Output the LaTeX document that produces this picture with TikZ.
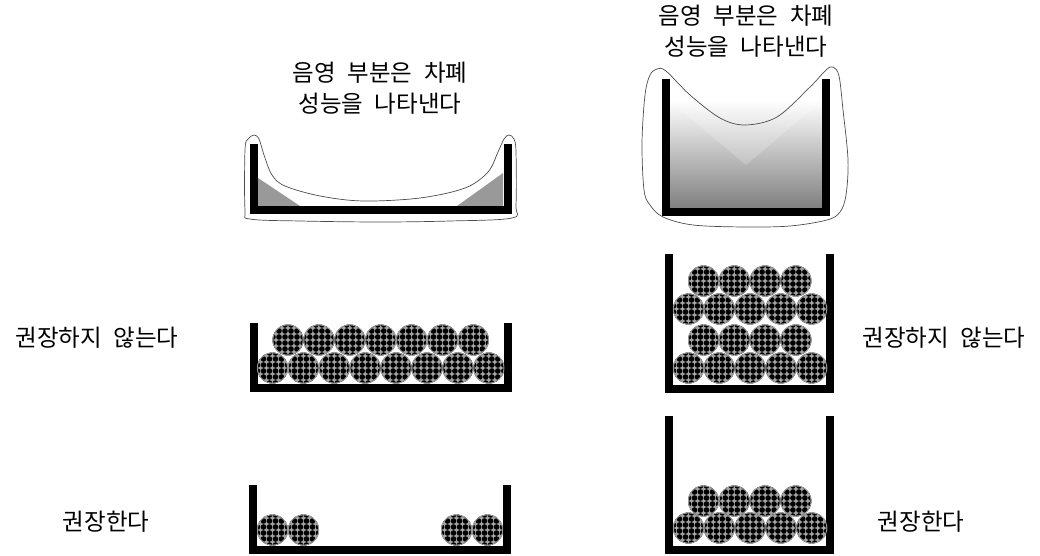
\documentclass[tikz,border=0pt]{standalone}
\usepackage{fontspec}
\newfontfamily\kr[WordSpace=2.2]{Noto Sans CJK KR}
\usetikzlibrary{positioning}

\tikzset{
  krtext/.style={font=\kr\fontsize{23.5}{31}\selectfont, align=center, inner sep=0pt},
  wall/.style={line width=8pt, line join=miter},
  outline/.style={draw=black!70, line width=0.7pt},
  wedge/.style={fill=black!40},
}

% U-shaped container: left x, right x, top y, bottom y (centre line)
\newcommand{\tray}[4]{\draw[wall] (#1,#3) -- (#1,#4) -- (#2,#4) -- (#2,#3);}

% one dotted pellet at (x,y)
\newcommand{\pellet}[2]{%
  \begin{scope}
    \clip (#1,#2) circle (15.5pt);
    \fill[black!35] (#1,#2) circle (15.5pt);
    \foreach \dx in {-15,-9,-3,3,9,15}{
      \foreach \dy in {-15,-9,-3,3,9,15}{
        \fill ({#1+\dx},{#2+\dy}) circle (2.8pt);}}
  \end{scope}
  \draw[black!40, line width=0.9pt] (#1,#2) circle (15.1pt);}

\begin{document}
\begin{tikzpicture}[x=1pt, y=-1pt]
  \useasboundingbox (0,0) rectangle (1040,556);

  % captions
  \node[krtext] (shadeL) at (380,88) {음영 부분은 차폐\\성능을 나타낸다};
  \node[krtext] (shadeR) at (746,31) {음영 부분은 차폐\\성능을 나타낸다};
  \node[krtext] (badL) at (97,338) {권장하지 않는다};
  \node[krtext] (goodL) at (106,522) {권장한다};
  \node[krtext] (badR) at (944,338) {권장하지 않는다};
  \node[krtext] (goodR) at (921,522) {권장한다};

  % shallow tray, shaded corners
  \fill[wedge] (258,206) -- (258,178) -- (300,206) -- cycle;
  \fill[wedge] (457,206) -- (503,173) -- (503,206) -- cycle;
  \tray{254}{508}{144}{209.5}
  \draw[outline] plot[smooth cycle, tension=0.55] coordinates {
    (245,150) (248,139) (254,135) (259,139) (264,155) (272,175) (285,186)
    (320,196) (363,201) (420,198) (465,188) (488,172) (498,152) (504,139)
    (509,135) (514,139) (516,152) (516,205) (512,218) (450,221) (380,222)
    (300,221) (250,219) (245,210)};

  % deep tray, graded fill
  \shade[top color=white, bottom color=black!50] (669,100) rectangle (823,208);
  \fill[white, opacity=0.2] (669,100) -- (823,100) -- (746,165) -- cycle;
  \tray{666}{826}{79}{212}
  \draw[outline] plot[smooth cycle, tension=0.55] coordinates {
    (642,143) (645,95) (650,75) (657,69) (666,71) (690,95) (720,118)
    (745,125) (777,117) (810,87) (826,70) (833,67) (839,76) (843,110)
    (848,160) (846,195) (840,212) (827,220) (790,226) (745,227) (693,225)
    (663,217) (650,205) (644,190)};

  % shallow tray, two full layers
  \tray{254}{508}{323}{388}
  \foreach \i in {0,...,7}{\pellet{272.5+30.9*\i}{368}}
  \foreach \i in {0,...,6}{\pellet{288+30.9*\i}{340}}

  % deep tray, four layers
  \tray{669}{830}{254}{389}
  \foreach \i in {0,...,4}{\pellet{688.5+30.8*\i}{368}}
  \foreach \i in {0,...,3}{\pellet{703.5+30.8*\i}{340}}
  \foreach \i in {0,...,4}{\pellet{688.5+30.8*\i}{309}}
  \foreach \i in {0,...,3}{\pellet{703.5+30.8*\i}{281}}

  % shallow tray, pellets at the ends only
  \tray{253}{507}{485}{550}
  \foreach \x in {272.5,303.5,456.5,487.5}{\pellet{\x}{530}}

  % deep tray, two layers
  \tray{669}{830}{416}{550}
  \foreach \i in {0,...,4}{\pellet{688.5+30.8*\i}{528}}
  \foreach \i in {0,...,3}{\pellet{703.5+30.8*\i}{501}}
\end{tikzpicture}
\end{document}
